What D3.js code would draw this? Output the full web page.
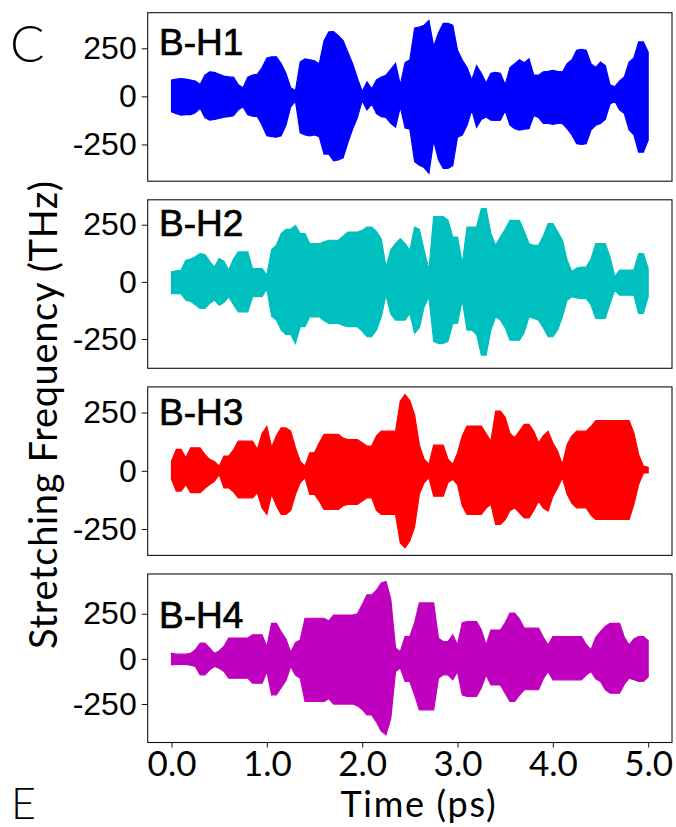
<!DOCTYPE html>
<html><head><meta charset="utf-8">
<script src="https://cdn.jsdelivr.net/npm/d3@7"></script>
<style>body{margin:0;background:#fff} svg{display:block}</style>
</head><body><svg id="c" width="676" height="827"></svg>
<script>
// ---- data ----
const time = [0,0.05,0.1,0.15,0.2,0.25,0.3,0.35,0.4,0.45,
  0.5,0.55,0.6,0.65,0.7,0.75,0.8,0.85,0.9,0.95,
  1,1.05,1.1,1.15,1.2,1.25,1.3,1.35,1.4,1.45,
  1.5,1.55,1.6,1.65,1.7,1.75,1.8,1.85,1.9,1.95,
  2,2.05,2.1,2.15,2.2,2.25,2.3,2.35,2.4,2.45,
  2.5,2.55,2.6,2.65,2.7,2.75,2.8,2.85,2.9,2.95,
  3,3.05,3.1,3.15,3.2,3.25,3.3,3.35,3.4,3.45,
  3.5,3.55,3.6,3.65,3.7,3.75,3.8,3.85,3.9,3.95,
  4,4.05,4.1,4.15,4.2,4.25,4.3,4.35,4.4,4.45,
  4.5,4.55,4.6,4.65,4.7,4.75,4.8,4.85,4.9,4.95,5];

const bh1Upper = [85,90,92,90,85,80,62,110,128,125,
  115,105,102,100,60,45,100,111,115,150,
  200,206,206,170,120,45,30,180,195,190,
  185,170,290,335,337,315,290,230,170,95,
  25,75,40,85,100,110,140,172,60,175,
  190,355,360,370,395,260,330,380,380,370,
  240,189,150,85,160,120,69,120,125,120,
  60,150,170,190,175,195,110,110,127,130,
  135,130,127,170,190,240,245,240,170,150,
  178,160,60,50,80,101,178,200,283,283,230];
const bh1Lower = [-80,-90,-97,-95,-95,-85,-62,-110,-124,-120,
  -115,-108,-106,-100,-70,-55,-95,-103,-105,-150,
  -205,-210,-212,-205,-150,-55,-25,-190,-200,-205,
  -200,-210,-300,-300,-335,-330,-320,-240,-170,-110,
  -22,-70,-40,-90,-105,-110,-140,-160,-55,-165,
  -170,-340,-358,-370,-400,-230,-330,-375,-375,-360,
  -212,-201,-150,-71,-160,-120,-107,-124,-125,-124,
  -75,-150,-168,-175,-170,-168,-100,-110,-141,-140,
  -145,-140,-141,-168,-200,-246,-250,-246,-175,-150,
  -141,-120,-40,-25,-70,-89,-175,-200,-290,-290,-228];

const bh2Upper = [44,48,51,95,100,110,124,120,90,65,
  102,90,51,100,131,131,131,58,58,58,
  30,140,160,211,230,230,247,211,211,167,
  167,167,175,182,182,182,200,218,218,218,
  225,240,240,220,189,65,140,167,189,167,
  138,240,230,138,51,285,285,285,270,196,
  196,80,240,240,240,320,320,211,160,196,
  230,269,269,269,220,167,160,160,200,255,
  255,220,182,95,44,60,65,65,100,167,
  167,167,109,22,51,51,51,51,124,124,58];
const bh2Lower = [-51,-51,-51,-80,-85,-100,-116,-116,-95,-80,
  -102,-90,-65,-100,-131,-131,-131,-65,-65,-65,
  -30,-150,-167,-210,-230,-230,-269,-196,-196,-153,
  -153,-153,-170,-182,-182,-182,-190,-196,-196,-196,
  -215,-240,-240,-210,-153,-58,-140,-167,-167,-167,
  -138,-225,-200,-109,-65,-260,-269,-269,-260,-182,
  -182,-80,-211,-211,-230,-320,-320,-211,-153,-167,
  -200,-255,-255,-255,-220,-153,-160,-167,-200,-240,
  -240,-210,-153,-80,-65,-70,-73,-73,-100,-160,
  -160,-160,-95,-36,-58,-58,-58,-58,-138,-138,-65];

const bh3Upper = [41,92,92,56,99,99,99,70,49,40,
  20,63,63,90,127,127,127,127,92,160,
  190,100,150,184,184,170,99,40,20,77,
  77,120,156,156,156,156,140,134,134,134,
  120,106,106,150,170,170,170,170,300,327,
  300,240,110,50,27,110,110,110,50,27,
  77,150,192,192,192,192,160,127,256,256,
  230,160,142,170,199,199,170,120,150,170,
  120,84,27,113,150,170,170,170,190,215,
  215,215,215,215,215,215,215,163,70,20,15];
const bh3Lower = [-37,-87,-87,-59,-94,-94,-94,-75,-59,-45,
  -16,-73,-73,-90,-116,-116,-116,-116,-94,-160,
  -187,-100,-150,-187,-187,-170,-101,-50,-30,-101,
  -101,-130,-166,-166,-166,-166,-150,-144,-144,-144,
  -130,-116,-116,-170,-187,-187,-187,-187,-310,-330,
  -300,-240,-100,-50,-30,-109,-109,-109,-50,-37,
  -59,-150,-187,-187,-187,-187,-160,-144,-230,-230,
  -210,-170,-159,-180,-202,-202,-170,-130,-160,-173,
  -110,-73,-30,-101,-140,-159,-159,-159,-190,-209,
  -209,-209,-209,-209,-209,-209,-209,-144,-59,-9,-9];

const bh4Upper = [31,26,26,26,30,50,87,87,60,31,
  44,70,115,115,115,115,115,133,133,133,
  68,197,197,150,110,37,90,105,225,225,
  225,225,225,210,243,243,243,243,243,250,
  300,354,354,380,420,428,330,60,40,124,
  124,200,310,310,310,310,114,96,96,133,
  77,200,206,206,206,160,77,160,160,160,
  200,253,253,220,170,170,170,170,120,77,
  124,124,124,124,124,124,124,80,50,120,
  151,180,197,197,197,120,77,110,124,124,100];
const bh4Lower = [-33,-30,-30,-30,-35,-42,-88,-88,-60,-42,
  -52,-70,-107,-107,-107,-107,-107,-135,-135,-135,
  -70,-199,-199,-160,-120,-42,-90,-107,-236,-236,
  -236,-236,-236,-220,-250,-250,-250,-250,-250,-260,
  -280,-310,-310,-350,-400,-420,-330,-70,-50,-125,
  -125,-200,-282,-282,-282,-282,-107,-88,-88,-116,
  -70,-200,-208,-208,-208,-160,-88,-144,-144,-144,
  -190,-236,-236,-200,-171,-171,-171,-171,-110,-70,
  -116,-116,-116,-116,-116,-116,-116,-90,-70,-110,
  -125,-170,-190,-190,-190,-140,-107,-115,-125,-125,-100];

const panelNames = ["B-H1","B-H2","B-H3","B-H4"];
const panelColors = ["#0000ff","#00bfbf","#ff0000","#bf00bf"];
const uppers = [bh1Upper,bh2Upper,bh3Upper,bh4Upper];
const lowers = [bh1Lower,bh2Lower,bh3Lower,bh4Lower];
const yDomains = [[-441,435],[-378,359],[-363,360],[-463,470]];
const yTicks = [-250,0,250];
const xTicks = [0,1,2,3,4,5];
const xDomain = [-0.25,5.25];

// ---- layout ----
const L = 147.7, R = 672, H = 168.5, tops = [12.7,199.8,386.9,574.0];
const labelBase = [42.3,35.7,37.7,53.7];
const svg = d3.select("#c");
const x = d3.scaleLinear().domain(xDomain).range([L,R]);

panelNames.forEach((name,i)=>{
  const top = tops[i];
  const y = d3.scaleLinear().domain(yDomains[i]).range([top+H, top]);
  const data = time.map((t,j)=>({t, hi: uppers[i][j], lo: lowers[i][j]}));
  const area = d3.area().x(d=>x(d.t)).y0(d=>y(d.lo)).y1(d=>y(d.hi));
  svg.append("path").datum(data).attr("d",area)
    .attr("fill",panelColors[i]).attr("stroke",panelColors[i]).attr("stroke-width",1.2)
    .attr("stroke-linejoin","miter");
  svg.append("rect").attr("x",L).attr("y",top).attr("width",R-L).attr("height",H)
    .attr("fill","none").attr("stroke","#111").attr("stroke-width",1.1);
  const ya = svg.append("g").attr("transform",`translate(${L},0)`)
    .call(d3.axisLeft(y).tickValues(yTicks).tickFormat(d=>String(d)).tickSize(6).tickPadding(5));
  ya.select(".domain").remove();
  ya.selectAll("line").attr("stroke","#111");
  ya.selectAll("text").attr("font-family","Liberation Sans, Arial, sans-serif").attr("font-size",32).attr("fill","#000");
  svg.append("text").attr("x",159).attr("y",top+labelBase[i]).text(name)
    .attr("font-family","Liberation Sans, Arial, sans-serif").attr("font-size",37).attr("fill","#000")
    .attr("stroke","#000").attr("stroke-width",0.7);
  if(i===3){
    const xa = svg.append("g").attr("transform",`translate(0,${top+H})`)
      .call(d3.axisBottom(x).tickValues(xTicks).tickFormat(d3.format(".1f")).tickSize(5).tickPadding(4));
    xa.select(".domain").remove();
    xa.selectAll("line").attr("stroke","#111");
    xa.selectAll("text").attr("font-family","Lato, sans-serif").attr("font-size",35).attr("fill","#000");
  }
});

svg.append("text").attr("x",418).attr("y",817).attr("text-anchor","middle")
  .attr("font-family","Lato, sans-serif").attr("font-size",36)
  .attr("textLength",155).attr("lengthAdjust","spacing").text("Time (ps)");
svg.append("text").attr("transform","translate(57,415) rotate(-90)").attr("text-anchor","middle")
  .attr("font-family","Lato, sans-serif").attr("font-size",38)
  .attr("textLength",468).attr("lengthAdjust","spacing").text("Stretching Frequency (THz)");
svg.append("text").attr("x",10).attr("y",62).attr("font-family","Lato, sans-serif")
  .attr("font-weight",300).attr("font-size",51).text("C");
svg.append("text").attr("x",11).attr("y",819).attr("font-family","Lato, sans-serif")
  .attr("font-weight",300).attr("font-size",43).text("E");
</script></body></html>
